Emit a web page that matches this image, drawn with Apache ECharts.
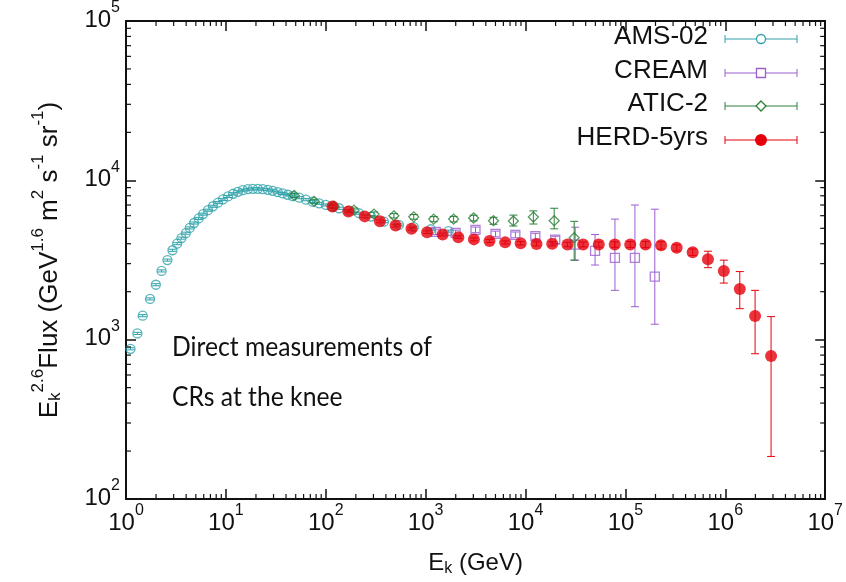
<!DOCTYPE html>
<html lang="en">
<head>
<meta charset="utf-8">
<title>Proton spectrum - HERD</title>
<script src="https://cdn.jsdelivr.net/npm/echarts@6/dist/echarts.min.js"></script>
<style>
  html, body { margin: 0; padding: 0; background: #fff; }
  #chart { width: 846px; height: 582px; }
</style>
</head>
<body>
<div id="chart"></div>
<script>
// ---- data (E_k in GeV, E^2.6 weighted flux) ----
var amsE = [1.11, 1.30, 1.47, 1.74, 1.99, 2.27, 2.60, 2.92, 3.25, 3.59, 3.97, 4.35, 4.80, 5.34, 5.90, 6.62,
            7.42, 8.33, 9.34, 10.5, 11.8, 13.2, 14.8, 16.6, 18.6, 20.9, 23.4, 26.3, 29.4, 33.0, 37.0, 41.5,
            46.6, 54.3, 63.3, 73.8, 86.0, 100, 117, 136, 171, 215, 284, 382, 540, 761, 1125, 1700];
var amsF = [876, 1095, 1415, 1803, 2212, 2700, 3158, 3640, 4003, 4339, 4659, 5025, 5397, 5769, 6137, 6495,
            6877, 7245, 7597, 7928, 8235, 8473, 8676, 8801, 8842, 8842, 8801, 8720, 8597, 8434, 8275, 8120,
            7967, 7780, 7560, 7347, 7175, 7006, 6850, 6680, 6450, 6220, 5920, 5500, 5250, 5080, 4930, 4800];

var creamE = [1262, 1995, 3155, 5000, 7907, 12530, 19820, 31410, 49660, 78520, 124500, 196800];
var creamF = [4750, 4680, 4890, 4610, 4550, 4460, 4240, 3950, 3610, 3265, 3265, 2490];
var creamLo = [4560, 4490, 4690, 4420, 4360, 4270, 4020, 3155, 2940, 2040, 1610, 1250];
var creamHi = [4940, 4870, 5090, 4800, 4740, 4650, 4460, 5080, 4570, 5710, 7000, 6590];

var aticE = [48.4, 76.6, 121.3, 191.9, 304.1, 480.8, 760.3, 1205, 1905, 3020, 4775, 7551, 11970, 19360, 30690];
var aticF = [8040, 7380, 6880, 6500, 6140, 5990, 5900, 5710, 5710, 5800, 5580, 5560, 5880, 5580, 4360];
var aticLo = [7800, 7160, 6670, 6300, 5950, 5800, 5700, 5500, 5480, 5560, 5300, 5170, 5320, 4960, 3155];
var aticHi = [8280, 7600, 7090, 6700, 6330, 6180, 6100, 5920, 5940, 6040, 5860, 6050, 6430, 6680, 5530];

var herdE = [116.7, 168.3, 245.5, 348.3, 500, 721, 1033, 1479, 2123, 3041, 4355, 6252, 8933, 12880, 18490,
             26300, 37670, 54080, 78160, 111700, 158900, 227500, 325800, 471000, 669900, 966000, 1396000,
             1986000, 2871000];
var herdF = [6855, 6380, 5940, 5530, 5200, 4960, 4730, 4570, 4400, 4260, 4160, 4080, 4030, 3990, 4000,
             3960, 3960, 3960, 3960, 3960, 3960, 3910, 3770, 3540, 3200, 2700, 2080, 1410, 789];
var herdLo = [6720, 6250, 5820, 5420, 5100, 4860, 4640, 4480, 4310, 4170, 4070, 3990, 3930, 3880, 3880,
              3830, 3820, 3810, 3800, 3790, 3780, 3700, 3600, 3375, 2830, 2265, 1565, 816, 185];
var herdHi = [6990, 6510, 6060, 5640, 5300, 5060, 4820, 4660, 4490, 4350, 4250, 4170, 4130, 4100, 4120,
              4090, 4100, 4110, 4120, 4130, 4140, 4120, 3940, 3710, 3590, 3155, 2675, 2040, 1395];

var xDecades = [1, 10, 100, 1e3, 1e4, 1e5, 1e6, 1e7];
var yDecades = [100, 1000, 1e4, 1e5];
var minorSteps = [2, 3, 4, 5, 6, 7, 8, 9];

var seriesNames = ['AMS-02', 'CREAM', 'ATIC-2', 'HERD-5yrs'];
var colors = ['#2ea2aa', '#9b5fd0', '#2b8038', '#e6000b'];

// ---- helpers ----
var font = "'Liberation Sans', Arial, sans-serif";

function pow10Label(v) {
    return '{b|10}{s|' + Math.round(Math.log10(v)) + '}';
}
var tickRich = {
    b: { fontSize: 24, fontFamily: font, color: '#111', padding: [8, 0, 0, 0] },
    s: { fontSize: 16, fontFamily: font, color: '#111', verticalAlign: 'top' }
};

function zip(a, b) {
    return a.map(function (v, i) { return [v, b[i]]; });
}

function errorSeries(name, xs, lo, hi, color) {
    return {
        type: 'custom',
        name: name,
        silent: true,
        renderItem: function (params, api) {
            var x = api.value(0);
            var p1 = api.coord([x, api.value(1)]);
            var p2 = api.coord([x, api.value(2)]);
            var w = 4;
            var st = { stroke: color, lineWidth: 1 };
            return {
                type: 'group',
                children: [
                    { type: 'line', shape: { x1: p1[0], y1: p1[1], x2: p2[0], y2: p2[1] }, style: st },
                    { type: 'line', shape: { x1: p1[0] - w, y1: p1[1], x2: p1[0] + w, y2: p1[1] }, style: st },
                    { type: 'line', shape: { x1: p2[0] - w, y1: p2[1], x2: p2[0] + w, y2: p2[1] }, style: st }
                ]
            };
        },
        encode: { x: 0, y: [1, 2] },
        data: xs.map(function (x, i) { return [x, lo[i], hi[i]]; })
    };
}

// minor log ticks on all four sides
var minorData = [];
xDecades.slice(0, -1).forEach(function (d) {
    minorSteps.forEach(function (m) { minorData.push([d * m, 1000, 0]); });
});
yDecades.slice(0, -1).forEach(function (d) {
    minorSteps.forEach(function (m) { minorData.push([10, d * m, 1]); });
});

var minorTicks = {
    type: 'custom',
    silent: true,
    renderItem: function (params, api) {
        var cs = params.coordSys;
        var len = 5;
        var st = { stroke: '#111', lineWidth: 1.2 };
        var p = api.coord([api.value(0), api.value(1)]);
        var lines;
        if (api.value(2) === 0) {
            lines = [[p[0], cs.y + cs.height, p[0], cs.y + cs.height - len],
                     [p[0], cs.y, p[0], cs.y + len]];
        } else {
            lines = [[cs.x, p[1], cs.x + len, p[1]],
                     [cs.x + cs.width, p[1], cs.x + cs.width - len, p[1]]];
        }
        return {
            type: 'group',
            children: lines.map(function (l) {
                return { type: 'line', shape: { x1: l[0], y1: l[1], x2: l[2], y2: l[3] }, style: st };
            })
        };
    },
    encode: { x: 0, y: 1 },
    data: minorData,
    z: 10
};

// ---- legend drawn gnuplot-style ----
var legendRows = [39, 73, 106, 140];
var legendGraphics = [];
seriesNames.forEach(function (n, i) {
    var y = legendRows[i], c = colors[i];
    legendGraphics.push({ type: 'text', right: 846 - 708, top: y - 15,
        style: { text: n, font: '26px ' + font, fill: '#111', textAlign: 'right' } });
    legendGraphics.push({ type: 'line', shape: { x1: 725, y1: y, x2: 797, y2: y }, style: { stroke: c, lineWidth: 1 } });
    legendGraphics.push({ type: 'line', shape: { x1: 725, y1: y - 4, x2: 725, y2: y + 4 }, style: { stroke: c, lineWidth: 1 } });
    legendGraphics.push({ type: 'line', shape: { x1: 797, y1: y - 4, x2: 797, y2: y + 4 }, style: { stroke: c, lineWidth: 1 } });
});
legendGraphics.push({ type: 'circle', shape: { cx: 761, cy: legendRows[0], r: 4.5 }, style: { fill: '#fff', stroke: colors[0], lineWidth: 1.3 } });
legendGraphics.push({ type: 'rect', shape: { x: 756.5, y: legendRows[1] - 4.5, width: 9, height: 9 }, style: { fill: '#fff', stroke: colors[1], lineWidth: 1.3 } });
legendGraphics.push({ type: 'polygon', shape: { points: [[761, legendRows[2] - 5], [766, legendRows[2]], [761, legendRows[2] + 5], [756, legendRows[2]]] }, style: { fill: '#fff', stroke: colors[2], lineWidth: 1.3 } });
legendGraphics.push({ type: 'circle', shape: { cx: 761, cy: legendRows[3], r: 6 }, style: { fill: colors[3] } });

// ---- chart ----
var chart = echarts.init(document.getElementById('chart'));

var xAxisBase = {
    type: 'log', logBase: 10, min: 1, max: 1e7, splitNumber: 7,
    splitLine: { show: false },
    axisLine: { onZero: false, lineStyle: { color: '#111', width: 2 } },
    axisTick: { inside: true, length: 10, lineStyle: { color: '#111', width: 1.5 } },
    minorTick: { show: false }
};
var yAxisBase = {
    type: 'log', logBase: 10, min: 100, max: 1e5, splitNumber: 3,
    splitLine: { show: false },
    axisLine: { onZero: false, lineStyle: { color: '#111', width: 2 } },
    axisTick: { inside: true, length: 10, lineStyle: { color: '#111', width: 1.5 } },
    minorTick: { show: false }
};

var option = {
    backgroundColor: '#fff',
    animation: false,
    grid: { left: 126, right: 18, top: 14, bottom: 83 },
    xAxis: [
        Object.assign({}, xAxisBase, {
            position: 'bottom',
            name: '{e|E}{k|k}{e| (GeV)}',
            nameLocation: 'middle',
            nameGap: 50,
            nameTextStyle: {
                rich: {
                    e: { fontSize: 24, fontFamily: font, color: '#111' },
                    k: { fontSize: 16, fontFamily: font, color: '#111', padding: [12, 0, 0, 0] }
                }
            },
            axisLabel: { formatter: pow10Label, rich: tickRich, margin: 4 }
        }),
        Object.assign({}, xAxisBase, { position: 'top', axisLabel: { show: false } })
    ],
    yAxis: [
        Object.assign({}, yAxisBase, {
            position: 'left',
            name: '{e|E}{k|k}{s|2.6}{e|Flux (GeV}{s|1.6}{e| m}{s|2}{e| s}{s|-1}{e| sr}{s|-1}{e|)}',
            nameLocation: 'middle',
            nameRotate: 90,
            nameGap: 62,
            nameTextStyle: {
                rich: {
                    e: { fontSize: 26, fontFamily: font, color: '#111', padding: [5, 0, 0, 0] },
                    k: { fontSize: 17, fontFamily: font, color: '#111', padding: [17, 0, 0, 0] },
                    s: { fontSize: 17, fontFamily: font, color: '#111', verticalAlign: 'top' }
                }
            },
            axisLabel: { formatter: pow10Label, rich: tickRich, margin: 6, padding: [0, 0, 10, 0] }
        }),
        Object.assign({}, yAxisBase, { position: 'right', axisLabel: { show: false } })
    ],
    graphic: legendGraphics.concat([
        { type: 'text', left: 172, top: 322, scaleX: 0.915,
          style: { text: 'Direct measurements of\nCRs at the knee', font: '27px Lato, "Open Sans", sans-serif',
                   fill: '#111', lineHeight: 50 } }
    ]),
    series: [
        minorTicks,
        errorSeries('AMS-02 err', amsE, amsF.map(function (v) { return v * 0.985; }), amsF.map(function (v) { return v * 1.015; }), colors[0]),
        {
            name: 'AMS-02', type: 'scatter', symbol: 'circle', symbolSize: 9,
            itemStyle: { color: 'rgba(255,255,255,0)', borderColor: colors[0], borderWidth: 1.3 },
            data: zip(amsE, amsF)
        },
        errorSeries('CREAM err', creamE, creamLo, creamHi, colors[1]),
        {
            name: 'CREAM', type: 'scatter', symbol: 'rect', symbolSize: 9,
            itemStyle: { color: 'rgba(255,255,255,0)', borderColor: colors[1], borderWidth: 1.3 },
            data: zip(creamE, creamF)
        },
        errorSeries('ATIC-2 err', aticE, aticLo, aticHi, colors[2]),
        {
            name: 'ATIC-2', type: 'scatter', symbol: 'diamond', symbolSize: 10,
            itemStyle: { color: 'rgba(255,255,255,0)', borderColor: colors[2], borderWidth: 1.3 },
            data: zip(aticE, aticF)
        },
        errorSeries('HERD err', herdE, herdLo, herdHi, colors[3]),
        {
            name: 'HERD-5yrs', type: 'scatter', symbol: 'circle', symbolSize: 12,
            itemStyle: { color: colors[3] },
            data: zip(herdE, herdF)
        }
    ]
};

chart.setOption(option);
</script>
</body>
</html>
